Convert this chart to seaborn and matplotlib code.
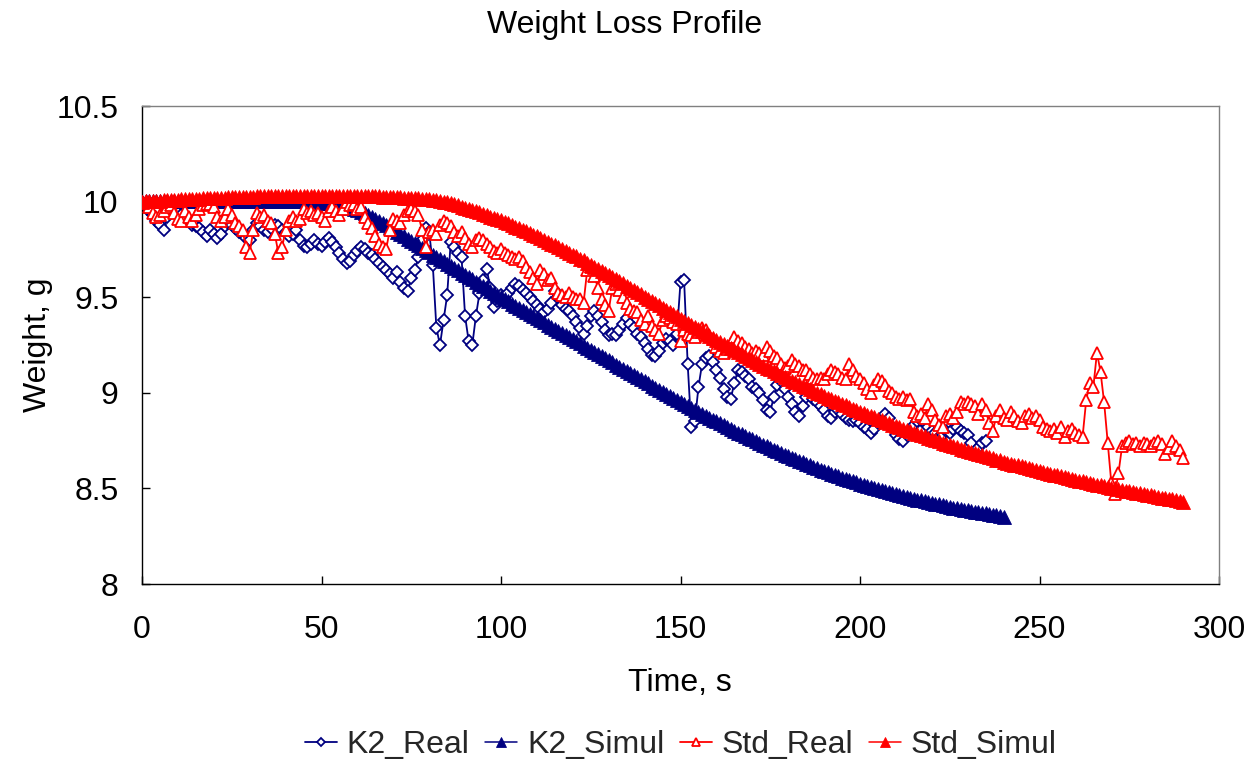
import numpy as np
import matplotlib
matplotlib.use("Agg")
import matplotlib.pyplot as plt
import seaborn as sns

# ---------------- data (1 s sampling) ----------------
k2_real = [
    10.00, 9.97, 9.95, 9.93, 9.90, 9.88, 9.85, 9.92, 9.97, 9.96,
    9.94, 9.93, 9.91, 9.90, 9.88, 9.87, 9.86, 9.84, 9.82, 9.85,
    9.83, 9.81, 9.83, 9.87, 9.89, 9.88, 9.86, 9.84, 9.83, 9.81,
    9.80, 9.85, 9.89, 9.87, 9.85, 9.84, 9.86, 9.88, 9.87, 9.85,
    9.84, 9.82, 9.83, 9.85, 9.80, 9.77, 9.76, 9.78, 9.80, 9.78,
    9.77, 9.79, 9.81, 9.79, 9.76, 9.73, 9.70, 9.68, 9.69, 9.72,
    9.74, 9.76, 9.75, 9.73, 9.72, 9.70, 9.68, 9.66, 9.64, 9.62,
    9.60, 9.63, 9.58, 9.55, 9.53, 9.60, 9.64, 9.71, 9.80, 9.86,
    9.84, 9.67, 9.34, 9.25, 9.38, 9.51, 9.79, 9.76, 9.73, 9.71,
    9.40, 9.27, 9.25, 9.40, 9.52, 9.59, 9.65, 9.55, 9.45, 9.48,
    9.51, 9.50, 9.52, 9.55, 9.57, 9.56, 9.54, 9.52, 9.50, 9.48,
    9.46, 9.44, 9.42, 9.44, 9.47, 9.53, 9.50, 9.46, 9.44, 9.43,
    9.40, 9.37, 9.34, 9.31, 9.35, 9.40, 9.43, 9.40, 9.37, 9.33,
    9.30, 9.31, 9.30, 9.33, 9.36, 9.39, 9.36, 9.34, 9.31, 9.29,
    9.26, 9.23, 9.20, 9.19, 9.22, 9.26, 9.28, 9.27, 9.25, 9.31,
    9.58, 9.59, 9.15, 8.82, 8.85, 9.03, 9.15, 9.18, 9.19, 9.16,
    9.12, 9.08, 9.02, 8.98, 8.97, 9.05, 9.12, 9.11, 9.09, 9.07,
    9.03, 9.02, 9.00, 8.96, 8.91, 8.90, 8.98, 9.04, 9.06, 9.02,
    8.98, 8.94, 8.90, 8.88, 8.93, 8.98, 9.00, 8.97, 8.95, 8.93,
    8.91, 8.88, 8.87, 8.90, 8.91, 8.89, 8.87, 8.86, 8.85, 8.86,
    8.84, 8.82, 8.81, 8.79, 8.81, 8.84, 8.86, 8.89, 8.87, 8.82,
    8.78, 8.76, 8.75, 8.78, 8.80, 8.83, 8.85, 8.86, 8.84, 8.82,
    8.80, 8.79, 8.77, 8.78, 8.80, 8.79, 8.81, 8.82, 8.80, 8.79,
    8.78, 8.74, 8.68, 8.71, 8.74, 8.75,
]

k2_simul = [
    10.000, 10.001, 10.001, 10.002, 10.002, 10.003, 10.003, 10.003, 10.004, 10.004,
    10.004, 10.005, 10.005, 10.005, 10.005, 10.005, 10.005, 10.005, 10.005, 10.005,
    10.005, 10.005, 10.005, 10.005, 10.005, 10.005, 10.005, 10.005, 10.005, 10.005,
    10.005, 10.005, 10.005, 10.005, 10.005, 10.004, 10.004, 10.004, 10.003, 10.003,
    10.003, 10.002, 10.002, 10.001, 10.001, 10.001, 10.000, 9.999, 9.999, 9.998,
    9.997, 9.995, 9.993, 9.990, 9.987, 9.983, 9.979, 9.974, 9.969, 9.963,
    9.957, 9.948, 9.939, 9.929, 9.919, 9.909, 9.899, 9.888, 9.877, 9.866,
    9.855, 9.843, 9.831, 9.819, 9.807, 9.795, 9.783, 9.771, 9.759, 9.747,
    9.735, 9.723, 9.711, 9.699, 9.687, 9.675, 9.663, 9.651, 9.640, 9.629,
    9.618, 9.606, 9.594, 9.582, 9.570, 9.558, 9.546, 9.534, 9.523, 9.511,
    9.500, 9.489, 9.478, 9.467, 9.456, 9.445, 9.434, 9.423, 9.412, 9.401,
    9.390, 9.379, 9.368, 9.357, 9.346, 9.335, 9.324, 9.313, 9.302, 9.291,
    9.280, 9.269, 9.258, 9.247, 9.236, 9.225, 9.214, 9.203, 9.192, 9.181,
    9.170, 9.159, 9.148, 9.137, 9.126, 9.115, 9.104, 9.093, 9.082, 9.071,
    9.060, 9.049, 9.038, 9.027, 9.016, 9.005, 8.994, 8.983, 8.972, 8.962,
    8.951, 8.941, 8.930, 8.920, 8.910, 8.900, 8.890, 8.880, 8.870, 8.860,
    8.850, 8.840, 8.831, 8.821, 8.811, 8.802, 8.792, 8.783, 8.774, 8.765,
    8.756, 8.747, 8.738, 8.729, 8.720, 8.711, 8.702, 8.694, 8.685, 8.677,
    8.668, 8.660, 8.652, 8.644, 8.636, 8.628, 8.620, 8.613, 8.605, 8.598,
    8.591, 8.584, 8.577, 8.570, 8.563, 8.556, 8.550, 8.543, 8.537, 8.531,
    8.525, 8.519, 8.513, 8.507, 8.501, 8.496, 8.490, 8.485, 8.480, 8.475,
    8.470, 8.465, 8.460, 8.455, 8.450, 8.446, 8.441, 8.437, 8.432, 8.428,
    8.424, 8.420, 8.416, 8.412, 8.408, 8.404, 8.400, 8.396, 8.393, 8.389,
    8.386, 8.382, 8.379, 8.375, 8.372, 8.369, 8.365, 8.362, 8.359, 8.356,
    8.353,
]

std_real = [
    10.00, 10.00, 9.97, 9.94, 9.92, 9.93, 9.95, 9.97, 9.98, 9.94,
    9.91, 9.90, 9.95, 9.92, 9.90, 9.93, 9.96, 9.98, 9.99, 9.99,
    9.97, 9.92, 9.90, 9.92, 9.96, 9.93, 9.89, 9.87, 9.85, 9.76,
    9.73, 9.85, 9.94, 9.92, 9.93, 9.90, 9.89, 9.83, 9.73, 9.76,
    9.85, 9.90, 9.92, 9.90, 9.91, 9.96, 9.94, 9.95, 9.93, 9.94,
    9.92, 9.90, 9.95, 9.97, 9.95, 9.93, 9.96, 10.00, 9.98, 9.99,
    9.96, 9.97, 9.92, 9.89, 9.86, 9.82, 9.78, 9.76, 9.75, 9.85,
    9.91, 9.90, 9.89, 9.93, 9.95, 9.96, 9.95, 9.93, 9.85, 9.76,
    9.84, 9.85, 9.83, 9.88, 9.90, 9.89, 9.87, 9.84, 9.82, 9.84,
    9.81, 9.78, 9.76, 9.80, 9.81, 9.80, 9.78, 9.76, 9.74, 9.73,
    9.75, 9.73, 9.72, 9.71, 9.70, 9.71, 9.69, 9.66, 9.63, 9.60,
    9.57, 9.64, 9.62, 9.59, 9.60, 9.55, 9.52, 9.51, 9.50, 9.52,
    9.50, 9.49, 9.49, 9.47, 9.64, 9.66, 9.61, 9.55, 9.49, 9.46,
    9.43, 9.55, 9.57, 9.54, 9.50, 9.47, 9.44, 9.43, 9.42, 9.38,
    9.36, 9.40, 9.35, 9.33, 9.31, 9.38, 9.40, 9.39, 9.37, 9.36,
    9.27, 9.33, 9.31, 9.30, 9.29, 9.32, 9.34, 9.33, 9.30, 9.28,
    9.24, 9.22, 9.21, 9.23, 9.26, 9.29, 9.27, 9.26, 9.24, 9.23,
    9.21, 9.22, 9.21, 9.20, 9.24, 9.22, 9.19, 9.18, 9.15, 9.13,
    9.14, 9.17, 9.15, 9.14, 9.12, 9.12, 9.10, 9.08, 9.07, 9.08,
    9.07, 9.10, 9.12, 9.11, 9.10, 9.08, 9.07, 9.15, 9.12, 9.09,
    9.07, 9.05, 9.02, 9.00, 9.04, 9.07, 9.06, 9.04, 9.01, 9.00,
    8.98, 8.97, 8.98, 8.96, 8.97, 8.90, 8.88, 8.89, 8.87, 8.94,
    8.91, 8.86, 8.83, 8.82, 8.88, 8.89, 8.87, 8.90, 8.95, 8.94,
    8.95, 8.94, 8.93, 8.89, 8.94, 8.91, 8.84, 8.80, 8.88, 8.91,
    8.87, 8.86, 8.90, 8.88, 8.85, 8.84, 8.88, 8.89, 8.87, 8.88,
    8.86, 8.82, 8.81, 8.80, 8.81, 8.79, 8.82, 8.77, 8.80, 8.81,
    8.79, 8.78, 8.77, 8.96, 9.05, 9.03, 9.21, 9.11, 8.95, 8.74,
    8.53, 8.47, 8.58, 8.72, 8.74, 8.75, 8.73, 8.74, 8.72, 8.74,
    8.73, 8.72, 8.74, 8.75, 8.73, 8.68, 8.71, 8.75, 8.72, 8.70,
    8.66,
]

std_simul = [
    10.000, 10.001, 10.002, 10.003, 10.004, 10.005, 10.006, 10.007, 10.008, 10.009,
    10.010, 10.011, 10.012, 10.013, 10.014, 10.015, 10.016, 10.017, 10.018, 10.018,
    10.019, 10.020, 10.021, 10.021, 10.022, 10.023, 10.023, 10.024, 10.025, 10.025,
    10.026, 10.026, 10.027, 10.027, 10.028, 10.028, 10.028, 10.029, 10.029, 10.029,
    10.030, 10.030, 10.030, 10.030, 10.030, 10.030, 10.030, 10.030, 10.030, 10.030,
    10.030, 10.030, 10.030, 10.030, 10.030, 10.030, 10.030, 10.030, 10.030, 10.030,
    10.030, 10.029, 10.029, 10.028, 10.028, 10.027, 10.027, 10.026, 10.025, 10.025,
    10.024, 10.023, 10.022, 10.021, 10.020, 10.019, 10.018, 10.017, 10.015, 10.014,
    10.012, 10.010, 10.007, 10.004, 10.000, 9.996, 9.991, 9.986, 9.980, 9.974,
    9.968, 9.962, 9.956, 9.949, 9.943, 9.936, 9.929, 9.922, 9.915, 9.909,
    9.903, 9.895, 9.887, 9.878, 9.869, 9.861, 9.852, 9.844, 9.835, 9.827,
    9.818, 9.809, 9.799, 9.790, 9.780, 9.771, 9.761, 9.752, 9.742, 9.733,
    9.723, 9.713, 9.702, 9.692, 9.681, 9.671, 9.660, 9.650, 9.639, 9.629,
    9.618, 9.607, 9.595, 9.584, 9.572, 9.561, 9.549, 9.538, 9.526, 9.515,
    9.503, 9.492, 9.480, 9.469, 9.457, 9.446, 9.434, 9.423, 9.411, 9.400,
    9.388, 9.377, 9.366, 9.354, 9.343, 9.332, 9.321, 9.310, 9.298, 9.287,
    9.276, 9.266, 9.255, 9.244, 9.234, 9.223, 9.213, 9.202, 9.192, 9.181,
    9.171, 9.161, 9.151, 9.142, 9.132, 9.122, 9.112, 9.102, 9.093, 9.083,
    9.073, 9.064, 9.055, 9.046, 9.037, 9.028, 9.019, 9.010, 9.001, 8.992,
    8.983, 8.975, 8.967, 8.958, 8.950, 8.942, 8.934, 8.926, 8.917, 8.909,
    8.901, 8.894, 8.886, 8.879, 8.871, 8.864, 8.856, 8.849, 8.841, 8.834,
    8.826, 8.819, 8.812, 8.806, 8.799, 8.792, 8.785, 8.778, 8.772, 8.765,
    8.758, 8.752, 8.746, 8.739, 8.733, 8.727, 8.721, 8.715, 8.708, 8.702,
    8.696, 8.690, 8.685, 8.679, 8.674, 8.668, 8.662, 8.657, 8.651, 8.646,
    8.640, 8.635, 8.630, 8.625, 8.620, 8.615, 8.610, 8.605, 8.600, 8.595,
    8.590, 8.586, 8.581, 8.577, 8.572, 8.568, 8.563, 8.559, 8.554, 8.550,
    8.545, 8.541, 8.537, 8.533, 8.529, 8.525, 8.520, 8.516, 8.512, 8.508,
    8.504, 8.500, 8.496, 8.493, 8.489, 8.485, 8.481, 8.477, 8.474, 8.470,
    8.466, 8.463, 8.459, 8.456, 8.452, 8.449, 8.445, 8.442, 8.438, 8.435,
    8.431,
]

series_names = ["K2_Real", "K2_Simul", "Std_Real", "Std_Simul"]
x_ticks = [0, 50, 100, 150, 200, 250, 300]
y_ticks = [8, 8.5, 9, 9.5, 10, 10.5]
y_tick_labels = ["8", "8.5", "9", "9.5", "10", "10.5"]

# ---------------- styling ----------------
sns.set_theme(style="white")
plt.rcParams["font.family"] = ["Liberation Sans", "DejaVu Sans"]

NAVY = "#000080"
RED = "#FF0000"
FS = 23

W, H = 1257, 765
fig = plt.figure(figsize=(W / 100, H / 100), dpi=100)
fig.patch.set_facecolor("white")
L, R, T, B = 142, 1219, 106, 584
ax = fig.add_axes([L / W, 1 - B / H, (R - L) / W, (B - T) / H])
ax.set_facecolor("white")

t_k2r = np.arange(len(k2_real))
t_k2s = np.arange(len(k2_simul))
t_sr = np.arange(len(std_real))
t_ss = np.arange(len(std_simul))

specs = [
    # (x, y, color, marker, size, facecolor, edge width, line width, zorder)
    (t_k2r, k2_real, NAVY, "D", 6.0, "white", 1.3, 1.3, 2),
    (t_k2s, k2_simul, NAVY, "^", 9.5, NAVY, 0.6, 1.1, 3),
    (t_sr, std_real, RED, "^", 9.2, "white", 1.3, 1.3, 4),
    (t_ss, std_simul, RED, "^", 9.5, RED, 0.6, 1.1, 5),
]

for name, (xx, yy, col, mk, ms, mfc, mew, lw, zo) in zip(series_names, specs):
    sns.lineplot(x=xx, y=yy, ax=ax, color=col, linewidth=lw, marker=mk,
                 markerfacecolor=mfc, markeredgecolor=col, markeredgewidth=mew,
                 label=name, sort=False, estimator=None, zorder=zo)
    line = ax.lines[-1]
    line.set_markersize(ms)
    line.set_markeredgewidth(mew)

ax.set_xlim(0, 300)
ax.set_ylim(8, 10.5)
ax.set_xticks(x_ticks)
ax.set_xticklabels([str(v) for v in x_ticks])
ax.set_yticks(y_ticks)
ax.set_yticklabels(y_tick_labels)
ax.set_xlabel("")
ax.set_ylabel("")
ax.grid(False)

for side in ["left", "bottom"]:
    ax.spines[side].set_color("black")
    ax.spines[side].set_linewidth(1.0)
for side in ["top", "right"]:
    ax.spines[side].set_color("#808080")
    ax.spines[side].set_linewidth(1.0)
    ax.spines[side].set_visible(True)

ax.tick_params(axis="both", which="major", direction="in", length=6, width=1,
               color="black", labelsize=FS, labelcolor="black",
               left=True, bottom=True)
ax.tick_params(axis="y", pad=17)
ax.tick_params(axis="x", pad=22)

fig.text(0.497, 1 - 25 / H, "Weight Loss Profile", ha="center", va="center",
         fontsize=FS, color="black")
fig.text(680 / W, 1 - 683 / H, "Time, s", ha="center", va="center",
         fontsize=FS, color="black")
fig.text(38 / W, 1 - 345 / H, "Weight, g", ha="center", va="center",
         rotation=90, fontsize=FS, color="black")

handles, labels = ax.get_legend_handles_labels()
if ax.get_legend() is not None:
    ax.get_legend().remove()
leg = fig.legend(handles, labels, loc="center", bbox_to_anchor=(681 / W, 1 - 745 / H),
                 ncol=4, frameon=False, fontsize=FS, handlelength=1.0,
                 handletextpad=0.3, columnspacing=0.5, borderpad=0.1,
                 markerscale=0.7)

fig.savefig("out.png", dpi=100, facecolor="white")
